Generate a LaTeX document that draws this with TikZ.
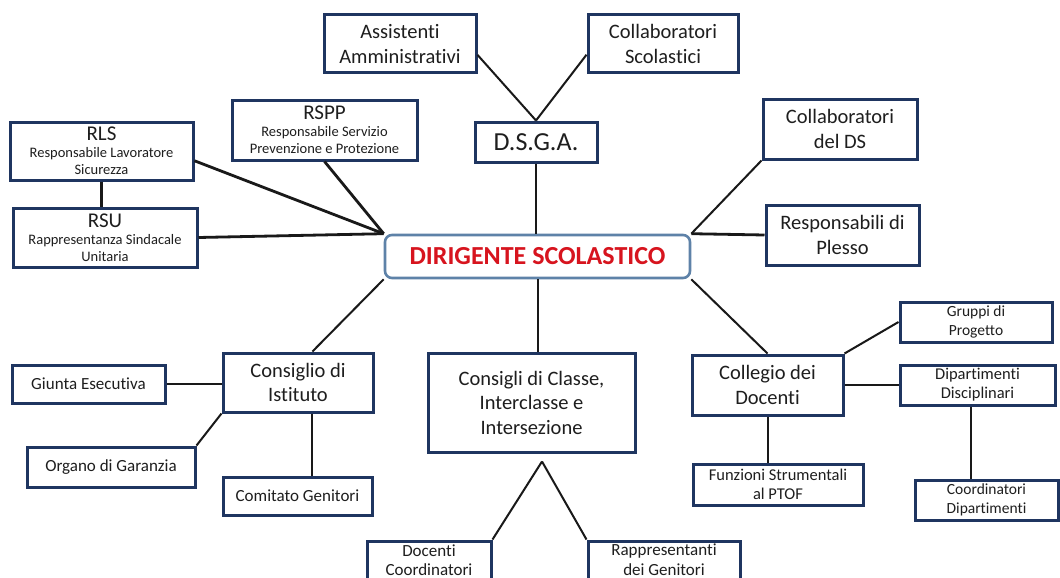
\documentclass[tikz,border=0pt]{standalone}
\usepackage{fontspec}
\setmainfont[Ligatures=NoCommon]{Carlito}
\usetikzlibrary{calc}
\definecolor{boxline}{HTML}{1F3560}
\definecolor{dsline}{HTML}{5E82A8}
\definecolor{dsred}{HTML}{D7141E}
\definecolor{ink}{HTML}{1E1E1E}

\begin{document}
\begin{tikzpicture}[x=1pt,y=-1pt,
	box/.style={draw=boxline,line width=3pt,fill=white,inner sep=0pt,align=center,text=ink,font=\fontsize{20.5}{24.5}\selectfont},
	midbox/.style={box,font=\fontsize{17}{20}\selectfont},
	smallbox/.style={box,font=\fontsize{14.5}{17}\selectfont},
	dsbox/.style={draw=dsline,line width=2.6pt,rounded corners=7pt,fill=white,inner sep=0pt,text=dsred,font=\fontsize{26}{30}\selectfont\bfseries},
	link/.style={draw=black!90,line width=2pt},
	thicklink/.style={link,line width=2.8pt}]
			%%%%% START %%%%%
			
			\useasboundingbox (0,0) rectangle (1060,578);
			\clip (0,0) rectangle (1060,578);
			\fill[white] (0,0) rectangle (1060,578);
			
			\node[dsbox,minimum width=305pt,minimum height=43pt] (ds) at (537.5,256.5) {DIRIGENTE SCOLASTICO};
			
			\node[box,minimum width=152pt,minimum height=58pt] (assist) at (400,44) {Assistenti\\Amministrativi};
			\node[box,minimum width=150pt,minimum height=58pt] (collsc) at (663,44) {Collaboratori\\Scolastici};
			\node[box,minimum width=122pt,minimum height=40pt,font=\fontsize{26}{30}\selectfont] (dsga) at (536,142) {D.S.G.A.};
			
			\node[smallbox,minimum width=185pt,minimum height=60pt] (rspp) at (324.5,130) {{\fontsize{21}{21}\selectfont RSPP}\\Responsabile Servizio\\Prevenzione e Protezione};
			\node[smallbox,minimum width=183pt,minimum height=58pt] (rls) at (101.5,151) {{\fontsize{21}{21}\selectfont RLS}\\Responsabile Lavoratore\\Sicurezza};
			\node[smallbox,minimum width=184pt,minimum height=59pt] (rsu) at (105,237.5) {{\fontsize{21}{21}\selectfont RSU}\\Rappresentanza Sindacale\\Unitaria};
			
			\node[box,minimum width=154pt,minimum height=60pt] (collds) at (840,129) {Collaboratori\\del DS};
			\node[box,minimum width=153pt,minimum height=60pt] (plesso) at (842.5,235) {Responsabili di\\Plesso};
			
			\node[box,minimum width=150pt,minimum height=59pt] (consist) at (298,382.5) {Consiglio di\\Istituto};
			\node[midbox,minimum width=153pt,minimum height=38pt] (giunta) at (88.5,384) {Giunta Esecutiva};
			\node[midbox,minimum width=168pt,minimum height=40pt] (organo) at (111,467) {Organo di Garanzia};
			\node[midbox,minimum width=149pt,minimum height=38pt] (comitato) at (297.5,496) {Comitato Genitori};
			
			\node[box,minimum width=207pt,minimum height=99pt] (consclasse) at (531.5,402.5) {Consigli di Classe,\\Interclasse e\\Intersezione};
			\node[midbox,minimum width=124pt,minimum height=38pt,font=\fontsize{17}{19}\selectfont] (doccoord) at (429,560) {Docenti\\Coordinatori};
			\node[midbox,minimum width=152pt,minimum height=38pt] (rappgen) at (664,560) {Rappresentanti\\dei Genitori};
			
			\node[box,minimum width=151pt,minimum height=60pt] (collegio) at (767.5,385) {Collegio dei\\Docenti};
			\node[midbox,minimum width=152pt,minimum height=40pt,font=\fontsize{15.5}{19}\selectfont] (gruppi) at (976,322) {Gruppi di\\Progetto};
			\node[midbox,minimum width=155pt,minimum height=40pt,font=\fontsize{16.5}{19}\selectfont] (dipart) at (977.5,385) {Dipartimenti\\Disciplinari};
			\node[midbox,minimum width=143pt,minimum height=40pt,font=\fontsize{15.5}{19}\selectfont] (coorddip) at (986.5,500) {Coordinatori\\Dipartimenti};
			\node[midbox,minimum width=170pt,minimum height=41pt,font=\fontsize{16.5}{19}\selectfont] (funzioni) at (778,484.5) {Funzioni Strumentali\\al PTOF};
			
			% top branch
			\draw[link] (assist.-8) -- (dsga.north);
			\draw[link] (collsc.188) -- (dsga.north);
			\draw[link] (dsga.south) -- (dsga.south |- ds.north);
			
			% left branch
			\draw[thicklink] (rls.-6) -- (ds.north west);
			\draw[thicklink] (rsu.east) -- (ds.north west);
			\draw[thicklink] (rspp.south) -- (ds.north west);
			\draw[thicklink] (rls.south) -- (rls.south |- rsu.north);
			
			% right branch
			\draw[link] (ds.north east) -- (collds.south west);
			\draw[thicklink] (ds.north east) -- (plesso.west);
			
			% bottom branch
			\draw[link] (ds.south west) -- (consist.65);
			\draw[link] (giunta.east) -- (giunta.east -| consist.west);
			\draw[link] (organo.north east) -- (consist.south west);
			\draw[link] (consist.295) -- (consist.295 |- comitato.north);
			
			\draw[link] (ds.south) -- (ds.south |- consclasse.north);
			\coordinate (split) at ($(consclasse.south)+(10.5,8)$);
			\draw[link] (split) -- (doccoord.north east);
			\draw[link] (split) -- (rappgen.north west);
			
			\draw[link] (ds.south east) -- (collegio.north);
			\draw[link] (collegio.north east) -- (gruppi.west);
			\draw[link] (collegio.east) -- (dipart.west);
			\draw[link] ([xshift=-7pt]dipart.south) -- ([xshift=-7pt]dipart.south |- coorddip.north);
			\draw[link] (collegio.south) -- (collegio.south |- funzioni.north);
			
			%%%%% END %%%%%
\end{tikzpicture}
\end{document}
